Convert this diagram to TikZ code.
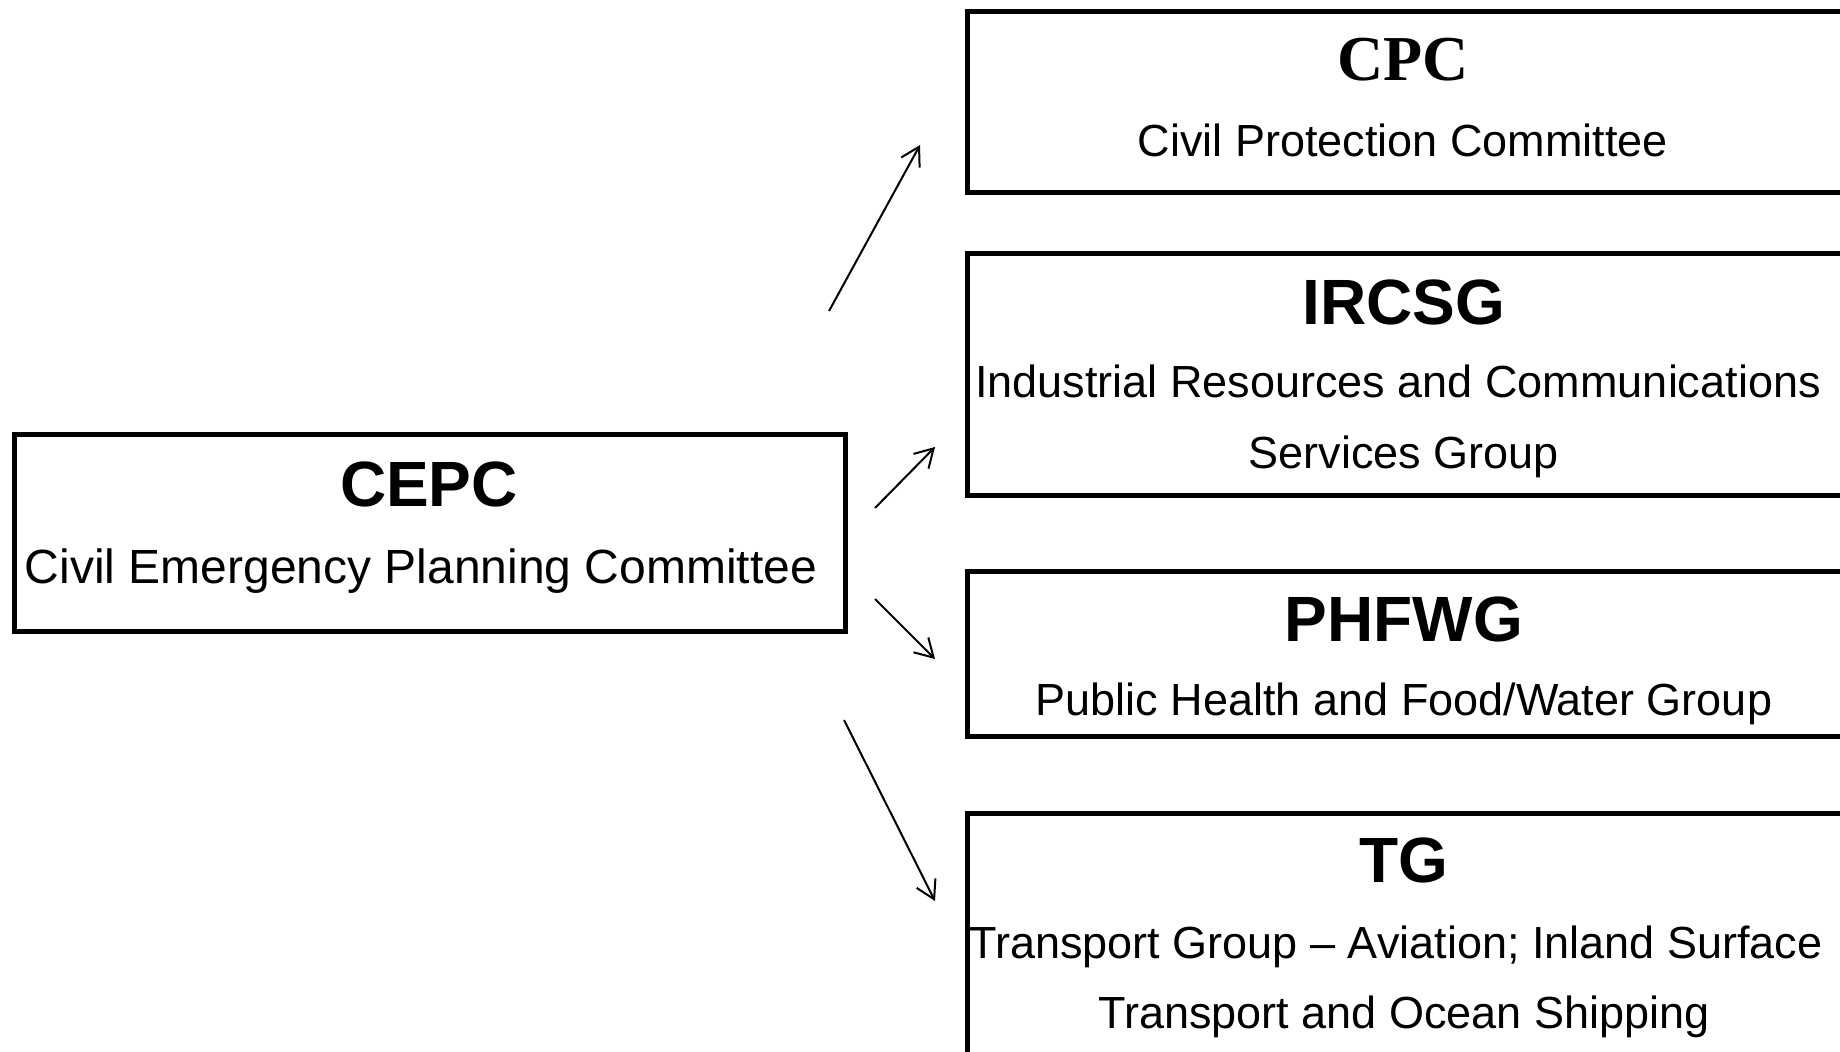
\documentclass[tikz,border=0pt]{standalone}
\usepackage{fontspec}
\setmainfont{Liberation Sans}
\newfontfamily\timesfont{Liberation Serif}
\usetikzlibrary{arrows.meta}
\tikzset{
  box/.style={draw, line width=2.3pt, anchor=north west, inner sep=0pt},
  ttl/.style={anchor=base, inner sep=0pt, font=\fontsize{32}{38}\selectfont\bfseries},
  ttlserif/.style={anchor=base, inner sep=0pt, font=\fontsize{32}{38}\selectfont\timesfont\bfseries},
  sub/.style={anchor=base, inner sep=0pt, font=\fontsize{22.5}{27}\selectfont},
  subbig/.style={anchor=base, inner sep=0pt, font=\fontsize{24}{29}\selectfont},
  conn/.style={line width=1pt, -{Straight Barb[length=9pt,width=10.5pt,line width=1pt]}}
}
\begin{document}
\begin{tikzpicture}[x=0.5pt,y=-0.5pt]
\useasboundingbox (0,0) rectangle (1840,1051);
\clip (0,0) rectangle (1840,1051);
\fill[white] (0,0) rectangle (1840,1051);

% left box
\node[box, minimum width=415.5pt, minimum height=98.5pt] (cepc) at (12,432) {};
\node[ttl] (cepct) at (429,506) {CEPC};
\node[subbig] (cepcs) at (421,583) {Civil Emergency Planning Committee};

% right boxes
\node[box, minimum width=457.5pt, minimum height=90.5pt] (cpc) at (965,9) {};
\node[ttlserif] (cpct) at (1403,80) {CPC};
\node[sub] (cpcs) at (1403,156) {Civil Protection Committee};

\node[box, minimum width=457.5pt, minimum height=121pt] (ircsg) at (965,251) {};
\node[ttl] (ircsgt) at (1404,324) {IRCSG};
\node[sub] (ircsgs1) at (1398,397) {Industrial Resources and Communications};
\node[sub] (ircsgs2) at (1404,468) {Services Group};

\node[box, minimum width=457.5pt, minimum height=82.5pt] (phfwg) at (965,569) {};
\node[ttl] (phfwgt) at (1404,641) {PHFWG};
\node[sub] (phfwgs) at (1404,715) {Public Health and Food/Water Group};

\node[box, minimum width=457.5pt, minimum height=134.5pt] (tg) at (965,811) {};
\node[ttl] (tgt) at (1404,882) {TG};
\node[sub] (tgs1) at (1396,958) {Transport Group -- Aviation; Inland Surface};
\node[sub] (tgs2) at (1404,1028) {Transport and Ocean Shipping};

% arrows
\coordinate (a1s) at (829,311);
\coordinate (a1e) at (920,145);
\coordinate (a2s) at (875,508);
\coordinate (a2e) at (935,447);
\coordinate (a3s) at (875,599);
\coordinate (a3e) at (935,659);
\coordinate (a4s) at (844,720);
\coordinate (a4e) at (935,901);
\draw[conn] (a1s) -- (a1e);
\draw[conn] (a2s) -- (a2e);
\draw[conn] (a3s) -- (a3e);
\draw[conn] (a4s) -- (a4e);
\end{tikzpicture}
\end{document}
